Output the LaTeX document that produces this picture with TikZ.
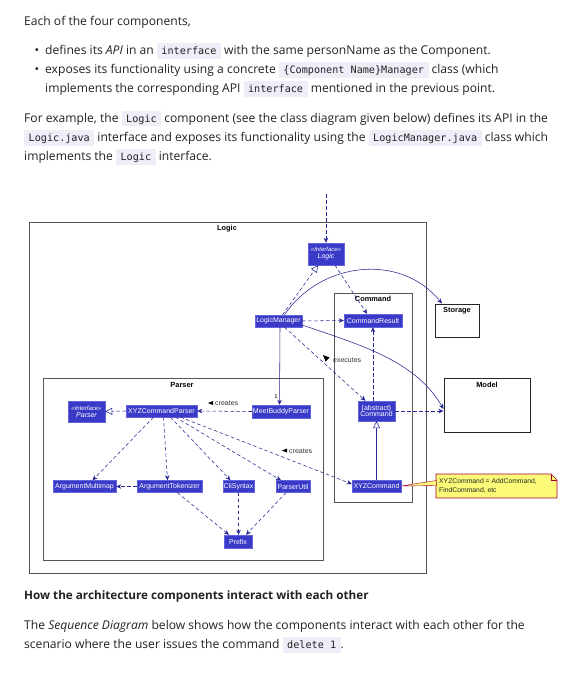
\documentclass[tikz,border=0pt]{standalone}
\usepackage{fontspec}
\setmainfont{Open Sans}
\setmonofont{DejaVu Sans Mono}
\newfontfamily\umlfont{Liberation Sans}
\usetikzlibrary{arrows.meta}
\definecolor{textc}{RGB}{34,34,34}
\definecolor{codebg}{RGB}{238,238,248}
\definecolor{clsfill}{RGB}{58,58,200}
\definecolor{clsborder}{RGB}{100,100,220}
\definecolor{lnc}{RGB}{40,40,150}
\definecolor{framec}{RGB}{85,85,85}
\definecolor{notefill}{RGB}{251,251,119}
\definecolor{noteline}{RGB}{168,0,54}
\newcommand\cd[1]{{\setlength{\fboxsep}{0pt}\colorbox{codebg}{\rule[-4.5pt]{0pt}{16pt}\hspace{4.5pt}{\ttfamily\fontsize{10.15}{12}\selectfont #1}\hspace{4.5pt}}}}
\tikzset{
  txt/.style={inner sep=0pt, anchor=base west, text=textc, font=\fontsize{12.1}{14}\selectfont},
  cls/.style={draw=clsborder, fill=clsfill, text=white, inner sep=0pt, line width=0.4pt, align=center, font=\umlfont\fontsize{7}{7.6}\selectfont},
  frame/.style={draw=framec, line width=0.8pt, inner sep=0pt},
  compbox/.style={draw=black!85, line width=1pt, inner sep=0pt},
  ttl/.style={inner sep=0pt, font=\umlfont\bfseries\fontsize{7.4}{8}\selectfont},
  lbl/.style={inner sep=0pt, anchor=west, text=black!80, font=\umlfont\fontsize{7}{7.6}\selectfont},
  dep/.style={draw=lnc, line width=0.55pt, dash pattern=on 3.5pt off 2.5pt, -{Stealth[length=5pt,width=4.5pt,inset=1.5pt]}},
  sol/.style={draw=lnc, line width=0.55pt, -{Stealth[length=5pt,width=4.5pt,inset=1.5pt]}},
  real/.style={draw=lnc, line width=0.55pt, dash pattern=on 3.5pt off 2.5pt, -{Triangle[open,length=7pt,width=7pt]}},
  gen/.style={draw=lnc, line width=0.55pt, -{Triangle[open,length=7pt,width=7pt]}},
}
\begin{document}
\begin{tikzpicture}[x=1pt,y=-1pt]
\useasboundingbox (0,0) rectangle (575,682);
\fill[white] (0,0) rectangle (575,682);

% ---------- text above ----------
\node[txt] (p1) at (24,26) {Each of the four components,};
\node[txt, anchor=base] (b1) at (37,55) {\textbullet};
\node[txt] (p2) at (45,55) {defines its \emph{API} in an \cd{interface} with the same personName as the Component.};
\node[txt, anchor=base] (b2) at (37,74) {\textbullet};
\node[txt] (p3) at (45,74) {exposes its functionality using a concrete \cd{\{Component Name\}Manager} class (which};
\node[txt] (p4) at (45,93) {implements the corresponding API \cd{interface} mentioned in the previous point.};
\node[txt] (p5) at (24,122) {For example, the \cd{Logic} component (see the class diagram given below) defines its API in the};
\node[txt] (p6) at (24,141) {\cd{Logic.java} interface and exposes its functionality using the \cd{LogicManager.java} class which};
\node[txt] (p7) at (24,160) {implements the \cd{Logic} interface.};

% ---------- frames ----------
\node[frame, minimum width=397pt, minimum height=351pt] (logicF) at (227.5,397.5) {};
\node[ttl] (logicT) at (227,229) {Logic};
\node[frame, minimum width=78pt, minimum height=209pt] (cmdF) at (373,397.5) {};
\node[ttl] (cmdT) at (373,299) {Command};
\node[frame, minimum width=280pt, minimum height=182pt] (parF) at (183,469) {};
\node[ttl] (parT) at (182,385) {Parser};
\node[compbox, minimum width=44pt, minimum height=33pt] (storage) at (457,320.5) {};
\node[ttl] (storT) at (457,311) {Storage};
\node[compbox, minimum width=86pt, minimum height=54pt] (model) at (487,405) {};
\node[ttl] (modT) at (487,385) {Model};

% ---------- classes ----------
\node[cls, minimum width=36pt, minimum height=22pt] (logicI) at (326,254) {\itshape\fontsize{6}{6.6}\selectfont «Interface»\\[-0.5pt]\itshape Logic};
\node[cls, minimum width=47pt, minimum height=12pt] (lm) at (278.5,321) {LogicManager};
\node[cls, minimum width=58pt, minimum height=13pt] (cr) at (373,320.5) {CommandResult};
\node[cls, minimum width=37pt, minimum height=20pt] (abs) at (376.5,411) {\{abstract\}\\[-1pt]Command};
\node[cls, minimum width=49pt, minimum height=12pt] (xyz) at (376.5,486) {XYZCommand};
\node[cls, minimum width=58pt, minimum height=13pt] (mbp) at (281,411.5) {MeetBuddyParser};
\node[cls, minimum width=71pt, minimum height=12pt] (xyzp) at (161.5,411) {XYZCommandParser};
\node[cls, minimum width=37pt, minimum height=21pt] (parI) at (86.5,411.5) {\itshape\fontsize{6}{6.6}\selectfont «Interface»\\[-0.5pt]\itshape Parser};
\node[cls, minimum width=63pt, minimum height=12pt] (am) at (84.5,486.5) {ArgumentMultimap};
\node[cls, minimum width=65pt, minimum height=12pt] (at) at (169.5,486.5) {ArgumentTokenizer};
\node[cls, minimum width=31pt, minimum height=12pt] (cs) at (238.5,486.5) {CliSyntax};
\node[cls, minimum width=34pt, minimum height=12pt] (pu) at (293,486.5) {ParserUtil};
\node[cls, minimum width=28pt, minimum height=13pt] (pre) at (238,541.5) {Prefix};

% note
\draw[fill=notefill, draw=noteline, line width=0.6pt] (436,474) -- (551,474) -- (557,480) -- (557,498) -- (436,498) -- cycle;
\draw[draw=noteline, line width=0.6pt] (551,474) -- (551,480) -- (557,480);
\node[inner sep=0pt, anchor=west, align=left, text=black!85, font=\umlfont\fontsize{6.8}{9.6}\selectfont] (note) at (439,486) {XYZCommand = AddCommand,\\FindCommand, etc};
\draw[fill=notefill, draw=noteline, line width=0.4pt] (xyz.east) -- (436.3,480.5) -- (436.3,485.5) -- cycle;

% ---------- connectors ----------
\coordinate (topIn) at (326,194);
\draw[dep] (topIn) -- (logicI.north);
\draw[real] ([xshift=4pt]lm.north) -- ([xshift=-8pt]logicI.south);
\draw[sol] ([xshift=6pt]lm.north) .. controls (320,262) and (400,252) .. ([xshift=-15pt]storage.north);
\draw[sol] ([yshift=-4pt]lm.east) .. controls (360,345) and (415,360) .. ([yshift=-4pt]model.west);
\draw[dep] ([xshift=9pt]logicI.south) -- ([xshift=-6pt]cr.north);
\draw[dep] (lm.east) -- (cr.west);
\draw[dep] (abs.north -| cr.south) -- (cr.south);
\draw[dep] ([xshift=6pt]lm.south) -- ([xshift=-11pt]abs.north);
\draw[sol] ([xshift=1.5pt]lm.south) -- ([xshift=-1.5pt]mbp.north);
\node[inner sep=0pt, font=\umlfont\fontsize{6}{7}\selectfont] (one) at (276,396) {1};
\draw[dep] (abs.east) -- (abs.east -| model.west);
\draw[gen] (xyz.north) -- (abs.south);
\draw[dep] (mbp.west) -- (xyzp.east);
\draw[real] (xyzp.west) -- (parI.east);
\draw[dep] ([xshift=-8pt]xyzp.south) -- ([xshift=8pt]am.north);
\draw[dep] ([xshift=2pt]xyzp.south) -- ([xshift=-2pt]at.north);
\draw[dep] ([xshift=9pt]xyzp.south) -- ([xshift=-8pt]cs.north);
\draw[dep] ([xshift=14pt]xyzp.south) -- ([xshift=-12pt]pu.north);
\draw[dep] ([xshift=19pt]xyzp.south) -- ([yshift=2pt]xyz.west);
\draw[dep] (at.west) -- (am.east);
\draw[dep] ([xshift=8pt]at.south) -- ([xshift=-9pt]pre.north);
\draw[dep] (cs.south) -- (cs.south |- pre.north);
\draw[dep] ([xshift=-7pt]pu.south) -- ([xshift=8pt]pre.north);

% ---------- labels ----------
\fill[black] (208,403) -- (213,401) -- (213,405) -- cycle;
\node[lbl] (cr1) at (215,403.5) {creates};
\fill[black] (282,450.5) -- (287,448.5) -- (287,452.5) -- cycle;
\node[lbl] (cr2) at (289,451.5) {creates};
\fill[black] (323,355) -- (329.5,357.5) -- (325.5,361.5) -- cycle;
\node[lbl] (ex) at (333,360) {executes};

% ---------- text below ----------
\node[txt, font=\bfseries\fontsize{11.7}{14}\selectfont] (h1) at (24,599) {How the architecture components interact with each other};
\node[txt] (q1) at (24,629) {The \emph{Sequence Diagram} below shows how the components interact with each other for the};
\node[txt] (q2) at (24,648) {scenario where the user issues the command \cd{delete 1}.};
\end{tikzpicture}
\end{document}
